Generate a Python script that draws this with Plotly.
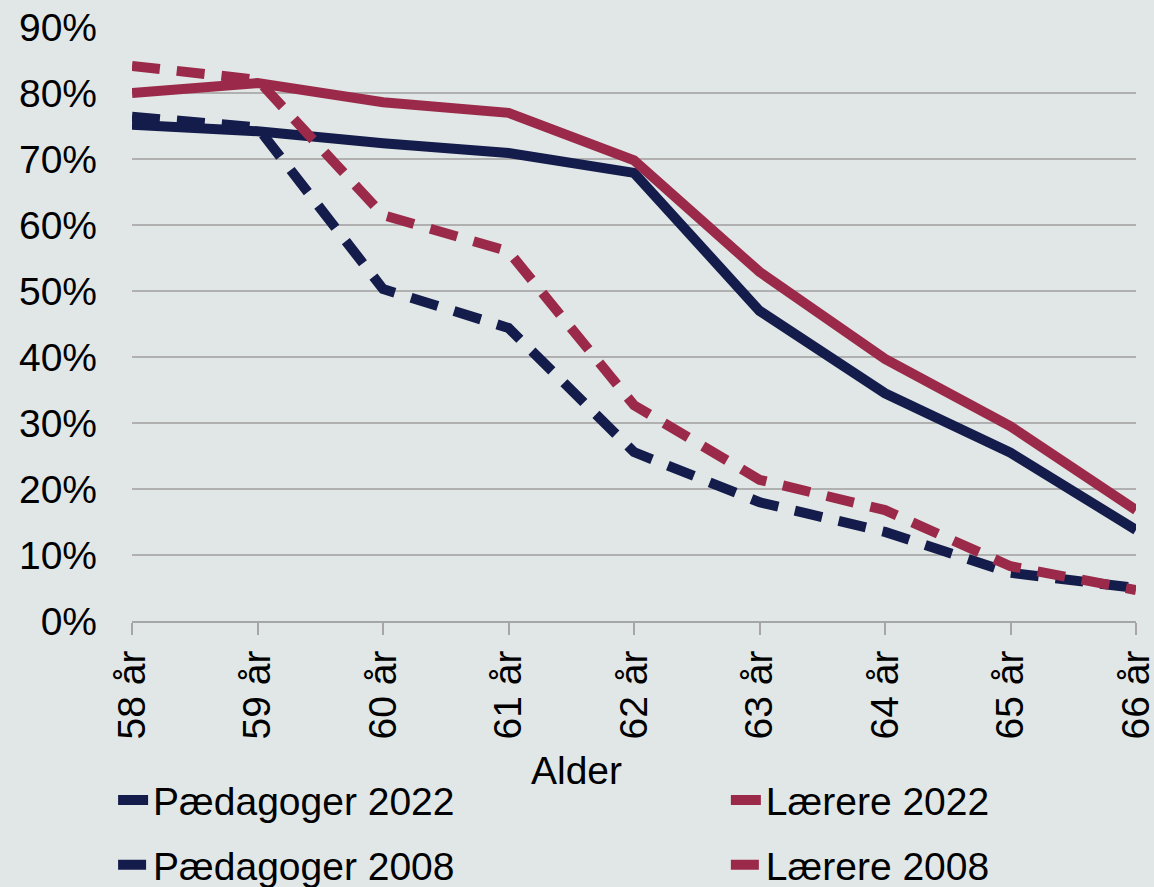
import plotly.graph_objects as go

ages = ["58 år", "59 år", "60 år", "61 år", "62 år", "63 år", "64 år", "65 år", "66 år"]

paedagoger_2022 = [75.2, 74.2, 72.4, 70.9, 67.9, 47.0, 34.5, 25.5, 13.8]
laerere_2022 = [80.0, 81.5, 78.6, 77.0, 69.8, 52.9, 39.7, 29.5, 16.8]
paedagoger_2008 = [76.4, 74.8, 50.3, 44.4, 25.6, 18.0, 13.5, 7.3, 5.0]
laerere_2008 = [84.1, 82.0, 61.5, 56.0, 32.7, 21.4, 16.8, 8.3, 4.7]

NAVY = "#141c4b"
RED = "#9b2a4a"
BG = "#e1e7e6"
FONT = "Liberation Sans, Arial, sans-serif"
DASH = "28px,17px"

# (name, values, colour, dash, which legend column)
series = [
    ("Pædagoger 2022", paedagoger_2022, NAVY, "solid", "legend"),
    ("Lærere 2022", laerere_2022, RED, "solid", "legend2"),
    ("Pædagoger 2008", paedagoger_2008, NAVY, DASH, "legend"),
    ("Lærere 2008", laerere_2008, RED, DASH, "legend2"),
]

fig = go.Figure()
for name, values, color, dash, leg in series:
    fig.add_trace(go.Scatter(
        x=ages,
        y=values,
        mode="lines",
        name=name,
        legend=leg,
        legendgroup=name,
        line=dict(color=color, width=10, dash=dash),
    ))

legend_style = dict(
    orientation="v",
    xref="container",
    yref="container",
    yanchor="top",
    xanchor="left",
    y=0.134,
    tracegroupgap=11,
    bgcolor="rgba(0,0,0,0)",
    font=dict(family=FONT, size=39, color="black"),
)

fig.update_layout(
    width=1154,
    height=887,
    margin=dict(l=132, r=18, t=27, b=266, autoexpand=False),
    paper_bgcolor=BG,
    plot_bgcolor=BG,
    font=dict(family=FONT, size=39, color="black"),
    showlegend=True,
    legend=dict(x=0.098, **legend_style),
    legend2=dict(x=0.629, **legend_style),
    annotations=[dict(
        text="Alder",
        xref="paper",
        yref="paper",
        x=0.443,
        y=-0.251,
        xanchor="center",
        yanchor="middle",
        showarrow=False,
        font=dict(family=FONT, size=39, color="black"),
    )],
)

fig.update_xaxes(
    type="category",
    range=[0, 8],
    tickangle=-90,
    automargin=False,
    showgrid=False,
    showline=True,
    linecolor="#a6a6a6",
    linewidth=2,
    ticks="outside",
    ticklen=12,
    tickwidth=2,
    tickcolor="#a6a6a6",
    zeroline=False,
)

fig.update_yaxes(
    range=[0, 90],
    dtick=10,
    ticksuffix="%",
    automargin=False,
    showgrid=True,
    gridcolor="#b0b0b0",
    gridwidth=2,
    showline=False,
    zeroline=False,
    ticks="",
    ticklabelstandoff=34,
)

fig.write_html(
    "out.html",
    config={"displayModeBar": False},
    post_script="document.body.style.margin='0';",
)
